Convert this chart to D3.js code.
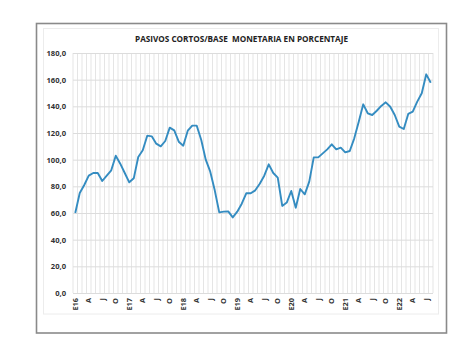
<!DOCTYPE html>
<html><head><meta charset="utf-8">
<script src="https://cdn.jsdelivr.net/npm/d3@7"></script>
<style>html,body{margin:0;padding:0;background:#fff}</style>
</head><body>
<svg id="c" width="474" height="355"></svg>
<script>
const title = "PASIVOS CORTOS/BASE  MONETARIA EN PORCENTAJE";
const monthLetters = ["E","F","M","A","M","J","J","A","S","O","N","D"];
const startYear = 2016;
const values = [60,75,81,88,90,90,84,88,92,103,97,90,
  83,86,102,107,118,117.5,112,110,114,124,122,113.5,
  110.5,121.7,125.5,125.5,114.7,100,91,77,60.5,61,61.2,56.7,
  61,67,74.8,74.8,77,82,88,96.5,90,86.5,65.3,67.8,
  76.5,64,78,74,83.5,101.7,101.7,104.7,107.7,111.5,107.7,109,
  105.5,106.5,116,128.5,141.5,134.8,133.5,136.7,140.3,143,139.7,133.5,
  124.8,123,134.3,136,143.5,149.8,164,157.7];
const yTicks = [0,20,40,60,80,100,120,140,160,180];

const categories = values.map((v,i)=>{
  const y = startYear + Math.floor(i/12), m = i%12;
  return m===0 ? "E" + String(y).slice(2) : monthLetters[m];
});
const labelEvery = 3;

const svg = d3.select("#c");
const font = "'Open Sans', 'Liberation Sans', sans-serif";

// frames
svg.append("rect").attr("x",36.5).attr("y",23.5).attr("width",410).attr("height",309.5)
  .attr("fill","#fff").attr("stroke","#8a8a8a").attr("stroke-width",1.6);
svg.append("rect").attr("x",43.5).attr("y",28.5).attr("width",395).attr("height",285.5)
  .attr("fill","none").attr("stroke","#ececec").attr("stroke-width",1);

const x = d3.scaleBand().domain(d3.range(values.length)).range([73,433]);
const y = d3.scaleLinear().domain([0,180]).range([293,53]);

// vertical gridlines at band boundaries
const bounds = d3.range(values.length+1).map(i => 73 + i*x.step());
svg.append("g").selectAll("line").data(bounds).join("line")
  .attr("x1",d=>d).attr("x2",d=>d).attr("y1",y(180)).attr("y2",y(0))
  .attr("stroke","#e2e2e2").attr("stroke-width",0.9);

// horizontal gridlines
const yAxis = d3.axisLeft(y).tickValues(yTicks)
  .tickFormat(d=>d3.format(".1f")(d).replace(".",","))
  .tickSize(-360).tickPadding(7);
const gy = svg.append("g").attr("transform","translate(73,0)").call(yAxis);
gy.select(".domain").remove();
gy.selectAll(".tick line").attr("stroke","#dcdcdc").attr("stroke-width",1);
gy.selectAll(".tick text").attr("font-family",font).attr("font-weight","bold")
  .attr("font-size","7.6px").attr("fill","#333");

// x axis labels
const xAxis = d3.axisBottom(x)
  .tickValues(d3.range(0,values.length,labelEvery))
  .tickFormat(i=>categories[i]).tickSize(0).tickPadding(0);
const gx = svg.append("g").attr("transform","translate(0,293)").call(xAxis);
gx.select(".domain").remove();
gx.selectAll(".tick text")
  .attr("font-family",font).attr("font-weight","bold").attr("font-size","7.4px").attr("fill","#333")
  .attr("transform","translate(0,5) rotate(-90)")
  .attr("text-anchor","end").attr("dy","0.35em").attr("x",0).attr("y",0);

// line
const line = d3.line().x((d,i)=>x(i)+x.bandwidth()/2).y(d=>y(d));
svg.append("path").datum(values).attr("d",line)
  .attr("fill","none").attr("stroke","#348cc1").attr("stroke-width",1.9)
  .attr("stroke-linejoin","round");

// title
svg.append("text").attr("x",241.5).attr("y",41.5).attr("text-anchor","middle")
  .attr("font-family",font).attr("font-weight","bold").attr("font-size","8.6px")
  .attr("fill","#222").attr("textLength",213).attr("lengthAdjust","spacingAndGlyphs")
  .style("white-space","pre").text(title);
</script>
</body></html>
